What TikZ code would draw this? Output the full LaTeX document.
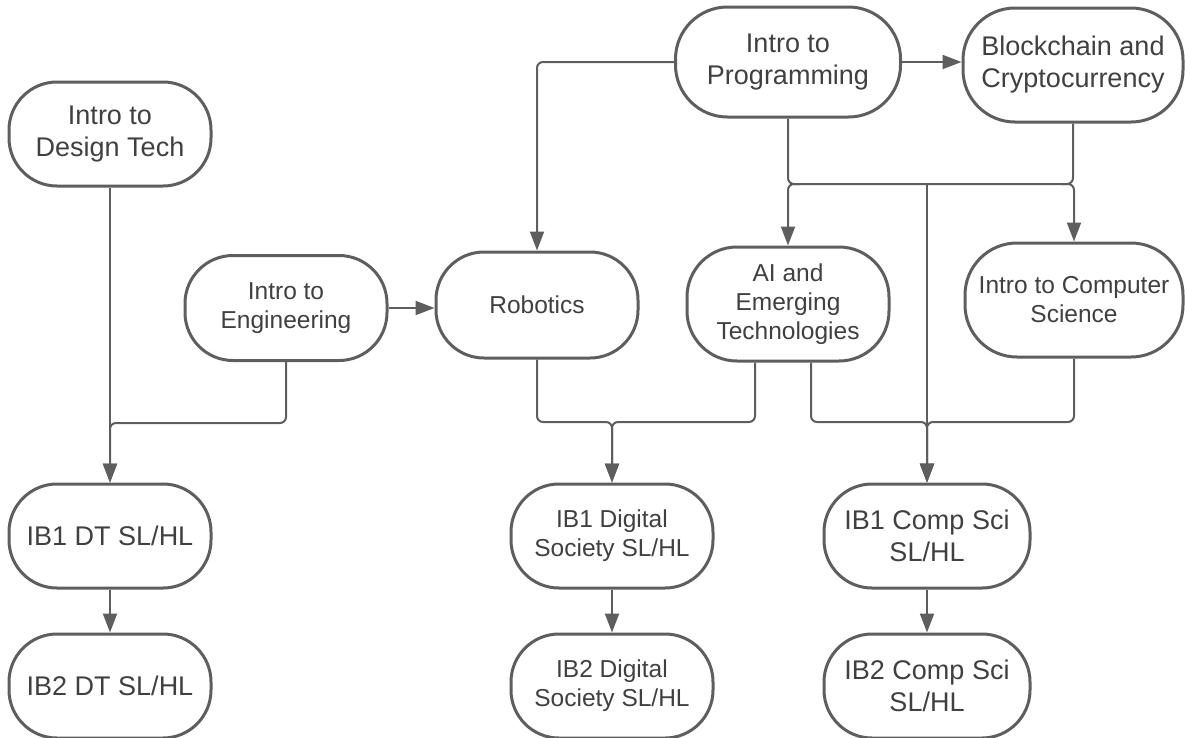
\documentclass[tikz,border=0pt]{standalone}
\usepackage{fontspec}
\setmainfont{Liberation Sans}
\usetikzlibrary{arrows.meta,calc}
\definecolor{linec}{HTML}{5E5E5E}
\definecolor{textc}{HTML}{404040}
\tikzset{
  box/.style={draw=linec, line width=3pt, rounded corners=48pt, fill=white,
    text=textc, align=center, inner sep=0pt, minimum width=202pt, minimum height=104pt},
  big/.style={font=\fontsize{27}{32}\selectfont},
  small/.style={font=\fontsize{24.5}{29}\selectfont},
  conn/.style={draw=linec, line width=2pt, rounded corners=6pt},
  arr/.style={conn, -{Triangle[length=19pt,width=14pt]}},
}
\begin{document}
\begin{tikzpicture}[x=1pt,y=-1pt]
\useasboundingbox (0,0) rectangle (1185,737);
% nodes
\node[box,big] (dt) at (110,134) {Intro to\\Design Tech};
\node[box,small,minimum height=105pt] (eng) at (286,308) {Intro to\\Engineering};
\node[box,small,minimum height=106pt] (rob) at (537,305) {Robotics};
\node[box,small,minimum height=114pt,rounded corners=50pt] (ai) at (788,304) {AI and\\Emerging\\Technologies};
\node[box,small,minimum width=218pt,minimum height=114pt,rounded corners=52pt] (cs) at (1074,300) {Intro to Computer\\Science};
\node[box,big,minimum width=225pt,minimum height=110pt,rounded corners=52pt] (prog) at (788,62) {Intro to\\Programming};
\node[box,big,minimum width=220pt,minimum height=114pt,rounded corners=52pt] (bc) at (1073,65) {Blockchain and\\Cryptocurrency};
\node[box,big] (ib1dt) at (110,536) {IB1 DT SL/HL};
\node[box,big] (ib2dt) at (110,686) {IB2 DT SL/HL};
\node[box,small] (ib1ds) at (612,536) {IB1 Digital\\Society SL/HL};
\node[box,small] (ib2ds) at (612,686) {IB2 Digital\\Society SL/HL};
\node[box,big,minimum width=206pt] (ib1cs) at (927,536) {IB1 Comp Sci\\SL/HL};
\node[box,big,minimum width=206pt] (ib2cs) at (927,686) {IB2 Comp Sci\\SL/HL};
% bus coordinates
\coordinate (J) at (0,184);
\coordinate (K) at (0,422);
\coordinate (L) at (0,423);
% left column
\draw[arr] (dt.south) -- (ib1dt.north);
\draw[arr] (eng.south) |- (ib1dt.north |- L) -- (ib1dt.north);
\draw[arr] (eng.east) -- (rob.west |- eng.east);
% programming
\draw[arr] (prog.west) -| (rob.north);
\draw[arr] (prog.east) -- (bc.west |- prog.east);
\draw[conn] (prog.south) |- (bc.south |- J) -- (bc.south);
\draw[arr] ($(prog.south |- J)+(12,0)$) -| (ai.north);
\draw[arr] ($(bc.south |- J)+(-12,0)$) -| (cs.north);
\draw[arr] (ib1cs.north |- J) -- (ib1cs.north);
% middle merges
\draw[arr] (rob.south) |- (ib1ds.north |- K) -- (ib1ds.north);
\draw[arr] ([xshift=-33pt]ai.south) |- (ib1ds.north |- K) -- (ib1ds.north);
\draw[arr] ([xshift=23pt]ai.south) |- (ib1cs.north |- K) -- (ib1cs.north);
\draw[arr] (cs.south) |- (ib1cs.north |- K) -- (ib1cs.north);
% IB chains
\draw[arr] (ib1dt.south) -- (ib2dt.north);
\draw[arr] (ib1ds.south) -- (ib2ds.north);
\draw[arr] (ib1cs.south) -- (ib2cs.north);
\end{tikzpicture}
\end{document}
